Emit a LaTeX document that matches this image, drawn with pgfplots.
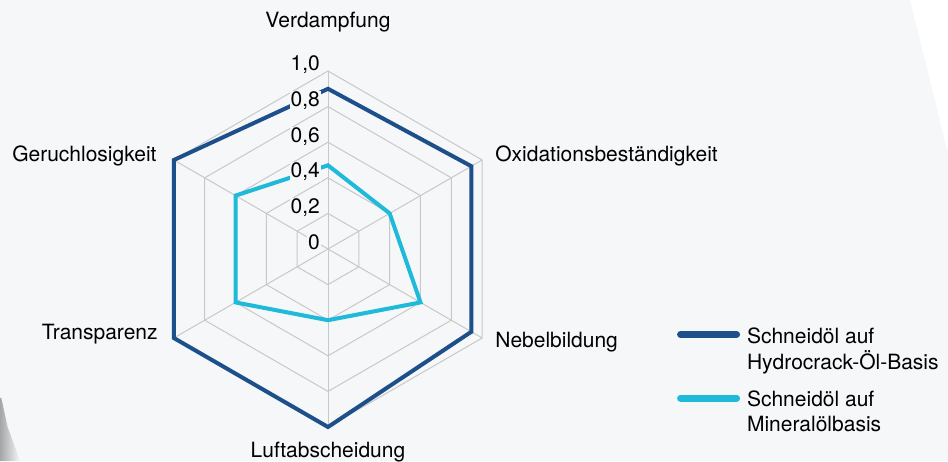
\documentclass[border=0pt]{standalone}
\usepackage{fontspec}
\setmainfont{TeX Gyre Heros}
\usepackage{pgfplots}
\pgfplotsset{compat=1.18}
\definecolor{bg}{HTML}{F5F7F9}
\definecolor{hydro}{HTML}{1D4F8A}
\definecolor{mineral}{HTML}{1FB9D9}
\definecolor{gridc}{HTML}{C8C8C8}
\begin{document}
\fontsize{10.5}{12.5}\selectfont
\begin{tikzpicture}
\begin{axis}[
  x=89pt, y=89pt,
  xmin=-1.8427, xmax=3.4831, ymin=-1.1910, ymax=1.3989,
  hide axis, clip=false,
  data cs=polar,
  legend cell align=left,
  legend style={at={(axis cs:1.961,-0.430)}, anchor=north west, draw=none, fill=none,
    inner sep=0pt, outer sep=0pt, row sep=21.5pt, column sep=3.5pt,
    nodes={inner sep=0pt, outer sep=0pt}},
  legend image code/.code={\draw[#1, line width=3.5pt, line cap=round] (1.75pt,0.7pt) -- (29.75pt,0.7pt);},
]
% background decoration
\fill[bg] (axis cs:-1.8427,-1.191) rectangle (axis cs:3.4831,1.3989);
\fill[white] (axis cs:3.2697,1.3989) -- (axis cs:3.4831,1.3989) -- (axis cs:3.4831,0.539) -- cycle;
\shade[left color=black!35, right color=bg] (axis cs:-1.8427,-0.837) -- (axis cs:-1.8427,-1.191) -- (axis cs:-1.730,-1.191) -- (axis cs:-1.80,-1.0) -- (axis cs:-1.835,-0.837) -- cycle;
% grid
\addplot[gridc, line width=0.5pt, forget plot] coordinates {(90,1.0) (30,1.0) (-30,1.0) (-90,1.0) (-150,1.0) (150,1.0)} -- cycle;
\addplot[gridc, line width=0.5pt, forget plot] coordinates {(90,0.8) (30,0.8) (-30,0.8) (-90,0.8) (-150,0.8) (150,0.8)} -- cycle;
\addplot[gridc, line width=0.5pt, forget plot] coordinates {(90,0.6) (30,0.6) (-30,0.6) (-90,0.6) (-150,0.6) (150,0.6)} -- cycle;
\addplot[gridc, line width=0.5pt, forget plot] coordinates {(90,0.4) (30,0.4) (-30,0.4) (-90,0.4) (-150,0.4) (150,0.4)} -- cycle;
\addplot[gridc, line width=0.5pt, forget plot] coordinates {(90,0.2) (30,0.2) (-30,0.2) (-90,0.2) (-150,0.2) (150,0.2)} -- cycle;
\addplot[gridc, line width=0.5pt, forget plot] coordinates {(90,1.0) (-90,1.0)};
\addplot[gridc, line width=0.5pt, forget plot] coordinates {(30,1.0) (-150,1.0)};
\addplot[gridc, line width=0.5pt, forget plot] coordinates {(-30,1.0) (150,1.0)};
% data
\addplot[hydro, line width=2pt, line join=miter] coordinates {(90,0.90) (30,0.93) (-30,0.93) (-90,1.0) (-150,1.0) (150,1.0)} -- cycle;
\addlegendentry{\begin{tabular}[t]{@{}l@{}}Schneidöl auf\\Hydrocrack-Öl-Basis\end{tabular}}
\addplot[mineral, line width=2pt, line join=miter] coordinates {(90,0.47) (30,0.40) (-30,0.60) (-90,0.40) (-150,0.60) (150,0.60)} -- cycle;
\addlegendentry{\begin{tabular}[t]{@{}l@{}}Schneidöl auf\\Mineralölbasis\end{tabular}}
% tick labels
\node[anchor=base east, fill=bg, inner sep=0.4pt] at (axis cs:-0.039,1.0) {1,0};
\node[anchor=base east, fill=bg, inner sep=0.4pt] at (axis cs:-0.039,0.8) {0,8};
\node[anchor=base east, fill=bg, inner sep=0.4pt] at (axis cs:-0.039,0.6) {0,6};
\node[anchor=base east, fill=bg, inner sep=0.4pt] at (axis cs:-0.039,0.4) {0,4};
\node[anchor=base east, fill=bg, inner sep=0.4pt] at (axis cs:-0.039,0.2) {0,2};
\node[anchor=base east, fill=bg, inner sep=0.4pt] at (axis cs:-0.039,0.0) {0};
% category labels
\node[anchor=base] at (axis cs:0,1.247) {Verdampfung};
\node[anchor=base west, inner sep=0pt] at (axis cs:0.938,0.494) {Oxidationsbeständigkeit};
\node[anchor=base west, inner sep=0pt] at (axis cs:0.938,-0.556) {Nebelbildung};
\node[anchor=base] at (axis cs:0,-1.169) {Luftabscheidung};
\node[anchor=base east, inner sep=0pt] at (axis cs:-0.955,-0.511) {Transparenz};
\node[anchor=base east, inner sep=0pt] at (axis cs:-0.961,0.494) {Geruchlosigkeit};
\end{axis}
\pgfresetboundingbox
\useasboundingbox (current axis.south west) rectangle (current axis.north east);
\end{tikzpicture}
\end{document}
